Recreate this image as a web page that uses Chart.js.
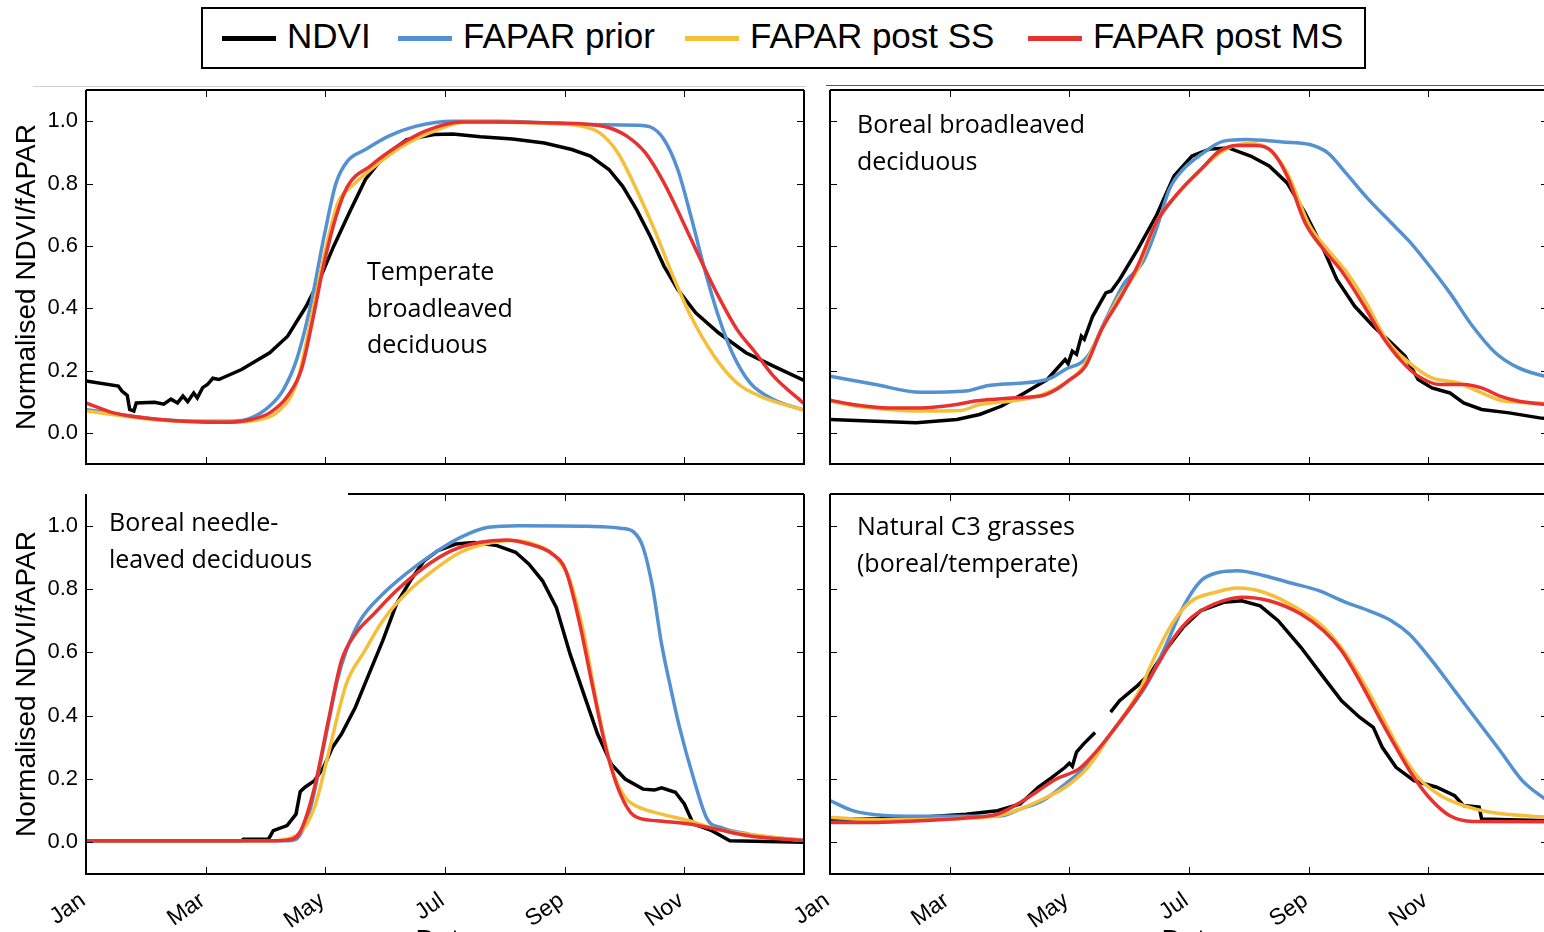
<!DOCTYPE html>
<html><head><meta charset="utf-8">
<script src="https://cdn.jsdelivr.net/npm/chart.js@4.4.1/dist/chart.umd.min.js"></script>
<style>
html,body{margin:0;padding:0;width:1544px;height:932px;overflow:hidden;background:#fff;}
canvas{position:absolute;}
.lbl{position:absolute;font-family:'Open Sans',sans-serif;font-size:25px;line-height:36.5px;color:#000;white-space:nowrap;}
.xt{position:absolute;font-family:'Liberation Sans',Arial,sans-serif;font-size:28px;line-height:28px;color:#000;white-space:nowrap;transform:translateX(-50%);}
#legend{position:absolute;left:201px;top:7px;width:1165px;height:62px;box-sizing:border-box;border:2px solid #000;font-family:'Liberation Sans',Arial,sans-serif;font-size:35px;color:#000;background:#fff;}
#legend .sw{position:absolute;width:54px;height:5px;top:27px;}
#legend .tx{position:absolute;top:7px;line-height:40px;white-space:nowrap;}
.hl{position:absolute;height:0;}
</style></head>
<body>
<div class="hl" style="left:33px;top:86px;width:773px;border-top:1px solid #cfcfcf;"></div>
<div class="hl" style="left:826px;top:85px;width:718px;border-top:1.5px solid #555;"></div>
<div id="legend"></div>
<script>
// ---------- data (x = months since 1 Jan, y = normalised value) ----------
const seriesNames = ['NDVI', 'FAPAR prior', 'FAPAR post SS', 'FAPAR post MS'];
const seriesColors = ['#000000', '#5491d1', '#f5bf3b', '#e8322f'];
const xTickVals = [0, 2, 4, 6, 8, 10];
const xTickLabels = ['Jan', 'Mar', 'May', 'Jul', 'Sep', 'Nov'];
const yTickVals = [0, 0.2, 0.4, 0.6, 0.8, 1.0];
const panelTitles = [
  ['Temperate', 'broadleaved', 'deciduous'],
  ['Boreal broadleaved', 'deciduous'],
  ['Boreal needle-', 'leaved deciduous'],
  ['Natural C3 grasses', '(boreal/temperate)']
];

// Temperate broadleaved deciduous (top left)
const tbdNDVI = [[0,0.166],[0.54,0.15],[0.6,0.134],[0.69,0.12],[0.73,0.075],[0.8,0.07],[0.84,0.096],[1.15,0.098],[1.3,0.092],[1.42,0.108],[1.53,0.096],[1.62,0.118],[1.7,0.1],[1.8,0.128],[1.86,0.112],[1.95,0.145],[2.03,0.155],[2.12,0.175],[2.22,0.171],[2.6,0.203],[3.07,0.257],[3.37,0.31],[3.68,0.406],[3.9,0.49],[4.14,0.599],[4.4,0.706],[4.67,0.813],[4.98,0.888],[5.36,0.941],[5.82,0.957],[6.13,0.959],[6.59,0.95],[7.13,0.943],[7.66,0.93],[8.12,0.909],[8.43,0.888],[8.74,0.845],[8.97,0.791],[9.2,0.717],[9.43,0.631],[9.66,0.535],[9.89,0.46],[10.19,0.385],[10.57,0.321],[11.03,0.257],[11.49,0.214],[12,0.168]];
const tbdPrior = [[0,0.075],[0.77,0.053],[1.23,0.043],[1.92,0.037],[2.45,0.037],[2.76,0.048],[3.07,0.086],[3.3,0.139],[3.52,0.235],[3.75,0.406],[3.98,0.631],[4.18,0.802],[4.37,0.872],[4.67,0.909],[5.06,0.952],[5.52,0.984],[6.13,1.0],[6.9,1.0],[7.66,0.995],[8.43,0.989],[9.2,0.987],[9.46,0.979],[9.66,0.941],[9.89,0.845],[10.11,0.695],[10.34,0.524],[10.57,0.374],[10.8,0.257],[11.1,0.16],[11.49,0.107],[12,0.073]];
const tbdSS = [[0,0.07],[1.23,0.041],[2.3,0.034],[2.91,0.043],[3.22,0.07],[3.52,0.16],[3.75,0.353],[3.98,0.567],[4.21,0.738],[4.44,0.791],[4.83,0.856],[5.29,0.92],[5.75,0.963],[6.36,0.997],[7.66,0.993],[8.28,0.984],[8.58,0.963],[8.89,0.898],[9.2,0.781],[9.5,0.652],[9.81,0.503],[10.11,0.374],[10.5,0.246],[10.88,0.16],[11.26,0.118],[12,0.073]];
const tbdMS = [[0,0.096],[0.46,0.064],[1.23,0.043],[2.3,0.034],[2.76,0.043],[3.07,0.064],[3.37,0.118],[3.6,0.203],[3.79,0.364],[3.98,0.545],[4.18,0.695],[4.37,0.791],[4.75,0.856],[5.21,0.92],[5.67,0.968],[6.28,0.997],[6.9,0.997],[7.66,0.995],[8.43,0.989],[8.74,0.979],[9.04,0.952],[9.35,0.898],[9.66,0.802],[9.96,0.684],[10.27,0.556],[10.57,0.438],[10.88,0.332],[11.19,0.257],[11.49,0.182],[12,0.094]];

// Boreal broadleaved deciduous (top right)
const bbdNDVI = [[0,0.043],[0.76,0.037],[1.44,0.032],[2.12,0.043],[2.5,0.059],[2.87,0.086],[3.25,0.128],[3.63,0.171],[3.93,0.235],[3.98,0.222],[4.05,0.262],[4.12,0.252],[4.2,0.31],[4.25,0.3],[4.39,0.374],[4.61,0.449],[4.7,0.455],[4.84,0.492],[5.14,0.588],[5.45,0.695],[5.75,0.824],[6.05,0.888],[6.35,0.911],[6.66,0.914],[7.03,0.888],[7.34,0.856],[7.64,0.802],[7.94,0.706],[8.25,0.588],[8.47,0.492],[8.77,0.406],[9.08,0.342],[9.38,0.289],[9.61,0.246],[9.83,0.171],[10.06,0.144],[10.36,0.128],[10.59,0.096],[10.89,0.075],[11.35,0.064],[11.86,0.048],[12,0.045]];
const bbdPrior = [[0,0.182],[0.76,0.155],[1.51,0.13],[2.27,0.134],[2.65,0.152],[3.63,0.171],[3.93,0.203],[4.31,0.246],[4.61,0.364],[4.92,0.481],[5.22,0.545],[5.45,0.652],[5.67,0.781],[5.9,0.845],[6.2,0.893],[6.58,0.936],[6.96,0.941],[7.56,0.933],[8.02,0.925],[8.32,0.898],[8.62,0.834],[9.0,0.749],[9.38,0.674],[9.68,0.615],[9.98,0.545],[10.36,0.449],[10.74,0.342],[11.12,0.257],[11.5,0.209],[12,0.178]];
const bbdSS = [[0,0.102],[0.38,0.088],[0.98,0.075],[1.51,0.07],[2.19,0.072],[2.5,0.091],[3.03,0.102],[3.56,0.123],[3.93,0.16],[4.24,0.214],[4.54,0.332],[4.84,0.439],[5.14,0.524],[5.45,0.674],[5.82,0.77],[6.28,0.861],[6.66,0.914],[7.03,0.928],[7.34,0.909],[7.64,0.834],[8.02,0.663],[8.32,0.588],[8.62,0.519],[8.93,0.428],[9.3,0.299],[9.68,0.225],[10.06,0.176],[10.51,0.16],[10.89,0.128],[11.27,0.102],[12,0.095]];
const bbdMS = [[0,0.105],[0.38,0.091],[0.98,0.08],[1.51,0.08],[2.12,0.091],[2.42,0.102],[3.03,0.112],[3.56,0.12],[3.78,0.139],[4.01,0.171],[4.27,0.214],[4.54,0.332],[4.84,0.428],[5.14,0.535],[5.45,0.674],[5.82,0.77],[6.2,0.845],[6.51,0.904],[6.81,0.922],[7.11,0.922],[7.38,0.904],[7.64,0.824],[7.94,0.674],[8.25,0.588],[8.55,0.519],[8.93,0.406],[9.23,0.31],[9.53,0.235],[9.83,0.182],[10.21,0.155],[10.59,0.155],[10.89,0.144],[11.2,0.118],[11.5,0.102],[12,0.09]];

// Boreal needle-leaved deciduous (bottom left)
const bndNDVI = [[0,0.005],[2.6,0.005],[2.63,0.01],[3.05,0.01],[3.13,0.037],[3.36,0.053],[3.51,0.089],[3.58,0.16],[3.66,0.174],[3.82,0.195],[3.97,0.237],[4.12,0.3],[4.27,0.342],[4.5,0.426],[4.73,0.532],[4.96,0.637],[5.19,0.753],[5.42,0.826],[5.65,0.889],[5.88,0.921],[6.18,0.942],[6.49,0.947],[6.87,0.937],[7.18,0.916],[7.4,0.879],[7.63,0.826],[7.86,0.742],[8.09,0.595],[8.32,0.468],[8.55,0.342],[8.78,0.247],[9.01,0.2],[9.31,0.168],[9.5,0.165],[9.62,0.172],[9.85,0.158],[10.0,0.121],[10.15,0.058],[10.46,0.037],[10.76,0.005],[12,0.0]];
const bndPrior = [[0,0.005],[3.36,0.005],[3.51,0.01],[3.74,0.1],[3.97,0.3],[4.2,0.511],[4.35,0.605],[4.58,0.7],[4.96,0.784],[5.34,0.847],[5.8,0.911],[6.26,0.963],[6.72,0.995],[7.25,1.0],[8.4,0.998],[8.93,0.992],[9.16,0.979],[9.31,0.932],[9.47,0.805],[9.62,0.626],[9.77,0.489],[9.92,0.363],[10.15,0.205],[10.38,0.074],[10.61,0.047],[11.07,0.026],[11.45,0.016],[12,0.007]];
const bndSS = [[0,0.005],[3.05,0.005],[3.51,0.021],[3.82,0.111],[4.05,0.279],[4.35,0.5],[4.66,0.605],[4.96,0.7],[5.34,0.784],[5.8,0.858],[6.26,0.916],[6.72,0.944],[7.1,0.953],[7.48,0.942],[7.86,0.9],[8.09,0.826],[8.32,0.658],[8.55,0.426],[8.78,0.237],[9.01,0.142],[9.24,0.111],[9.62,0.089],[10.08,0.068],[10.53,0.042],[12,0.005]];
const bndMS = [[0,0.005],[3.05,0.005],[3.44,0.01],[3.59,0.037],[3.82,0.174],[4.05,0.384],[4.27,0.574],[4.5,0.658],[4.81,0.721],[5.19,0.795],[5.65,0.868],[6.11,0.921],[6.56,0.947],[7.02,0.955],[7.4,0.942],[7.79,0.911],[8.02,0.858],[8.24,0.7],[8.47,0.489],[8.7,0.289],[8.93,0.153],[9.16,0.084],[9.54,0.068],[10.08,0.058],[10.53,0.042],[11.07,0.021],[12,0.005]];

// Natural C3 grasses (bottom right); null = missing NDVI
const c3gNDVI = [[0,0.074],[0.76,0.074],[1.51,0.079],[2.27,0.089],[2.8,0.1],[3.18,0.121],[3.48,0.174],[3.71,0.205],[3.93,0.237],[4.0,0.25],[4.05,0.24],[4.12,0.285],[4.24,0.311],[4.43,0.347],[4.55,null],[4.69,0.411],[4.84,0.447],[5.14,0.495],[5.37,0.537],[5.6,0.605],[5.9,0.679],[6.2,0.732],[6.58,0.758],[6.88,0.763],[7.19,0.747],[7.49,0.7],[7.87,0.616],[8.25,0.521],[8.55,0.447],[8.85,0.395],[9.08,0.363],[9.23,0.3],[9.46,0.237],[9.76,0.195],[10.14,0.174],[10.44,0.147],[10.59,0.116],[10.85,0.111],[10.89,0.074],[12,0.068]];
const c3gPrior = [[0,0.132],[0.38,0.1],[0.76,0.087],[1.51,0.082],[2.27,0.082],[2.87,0.084],[3.18,0.105],[3.56,0.132],[3.93,0.184],[4.31,0.247],[4.69,0.342],[5.07,0.437],[5.3,0.5],[5.6,0.616],[5.9,0.742],[6.2,0.826],[6.51,0.853],[6.81,0.858],[7.26,0.842],[7.72,0.818],[8.17,0.795],[8.62,0.758],[9.0,0.732],[9.38,0.7],[9.68,0.658],[10.06,0.574],[10.44,0.479],[10.82,0.384],[11.2,0.289],[11.57,0.195],[12,0.13]];
const c3gSS = [[0,0.079],[0.76,0.071],[1.89,0.074],[2.8,0.084],[3.18,0.105],[3.56,0.137],[3.93,0.174],[4.31,0.237],[4.69,0.342],[5.14,0.468],[5.45,0.595],[5.75,0.7],[6.05,0.763],[6.43,0.789],[6.81,0.803],[7.26,0.789],[7.87,0.732],[8.25,0.679],[8.62,0.595],[8.93,0.5],[9.23,0.395],[9.53,0.289],[9.83,0.205],[10.21,0.147],[10.59,0.116],[11.04,0.095],[12,0.079]];
const c3gMS = [[0,0.063],[0.76,0.063],[1.51,0.068],[2.27,0.077],[2.8,0.089],[3.18,0.126],[3.48,0.163],[3.78,0.2],[4.16,0.232],[4.46,0.289],[4.77,0.363],[5.14,0.458],[5.45,0.553],[5.75,0.647],[6.05,0.711],[6.43,0.753],[6.88,0.774],[7.34,0.763],[7.87,0.721],[8.25,0.668],[8.55,0.605],[8.85,0.511],[9.15,0.405],[9.46,0.3],[9.76,0.205],[10.06,0.132],[10.36,0.084],[10.74,0.066],[12,0.065]];

// ---------- legend ----------
const legendItemLeft = [19, 195, 482, 825]; // sample offsets inside the legend box
const lg = document.getElementById('legend');
seriesNames.forEach((n, i) => {
  const sw = document.createElement('div'); sw.className = 'sw';
  sw.style.background = seriesColors[i]; sw.style.left = legendItemLeft[i] + 'px';
  const tx = document.createElement('div'); tx.className = 'tx';
  tx.textContent = n; tx.style.left = (legendItemLeft[i] + 65) + 'px';
  lg.appendChild(sw); lg.appendChild(tx);
});

// ---------- frame / inward ticks ----------
const framePlugin = {
  id: 'frame',
  afterDatasetsDraw(chart, args, o) {
    const {ctx, chartArea: a, scales: {x, y}} = chart;
    ctx.save();
    ctx.strokeStyle = '#000';
    ctx.lineWidth = 1;
    ctx.beginPath();
    xTickVals.forEach(v => {
      const px = Math.round(x.getPixelForValue(v)) + 0.5;
      ctx.moveTo(px, a.bottom); ctx.lineTo(px, a.bottom - 7);
      if (v > 0 && (!o.topFrom || px > o.topFrom)) { ctx.moveTo(px, a.top); ctx.lineTo(px, a.top + 7); }
    });
    yTickVals.forEach(v => {
      const py = Math.round(y.getPixelForValue(v)) + 0.5;
      ctx.moveTo(a.left, py); ctx.lineTo(a.left + 7, py);
      ctx.moveTo(a.right, py); ctx.lineTo(a.right - 7, py);
    });
    ctx.stroke();
    ctx.lineWidth = 2;
    ctx.beginPath();
    ctx.moveTo(o.topFrom || a.left, a.top); ctx.lineTo(a.right, a.top);
    ctx.moveTo(a.left, a.top); ctx.lineTo(a.left, a.bottom); ctx.lineTo(a.right, a.bottom); ctx.lineTo(a.right, a.top);
    ctx.stroke();
    ctx.restore();
  }
};

const fontFam = "'Liberation Sans', Arial, sans-serif";
function makePanel(box, series, showX, showY, titleLines, titlePos, topFrom) {
  const c = document.createElement('canvas');
  c.width = box.w; c.height = box.h;
  c.style.left = box.x + 'px'; c.style.top = box.y + 'px';
  document.body.appendChild(c);
  const order = [3, 2, 1, 0];
  const xScale = {
    type: 'linear', min: 0, max: 12, display: showX,
    grid: {display: false, drawTicks: false, tickLength: 0},
    border: {display: false},
    afterBuildTicks: s => { s.ticks = xTickVals.map(v => ({value: v})); },
    ticks: {autoSkip: false, minRotation: 35, maxRotation: 35, padding: 13, labelOffset: -3, color: '#000',
            font: {family: fontFam, size: 23},
            callback: (v, i) => xTickLabels[i]}
  };
  if (showX) xScale.afterFit = s => { s.height = box.xh; s.paddingLeft = 0; s.paddingRight = 0; };
  const yScale = {
    type: 'linear', min: -0.1, max: 1.1, display: showY,
    grid: {display: false, drawTicks: false, tickLength: 0},
    border: {display: false},
    afterBuildTicks: s => { s.ticks = yTickVals.map(v => ({value: v})); },
    ticks: {padding: 8, color: '#000', font: {family: fontFam, size: 22}, callback: v => Number(v).toFixed(1)},
    title: {display: true, text: 'Normalised NDVI/fAPAR', color: '#000',
            font: {family: fontFam, size: 28}, padding: {top: 10, bottom: 0}}
  };
  if (showY) yScale.afterFit = s => { s.width = 86; s.paddingTop = 0; s.paddingBottom = 0; };
  new Chart(c, {
    type: 'line',
    data: {
      datasets: series.map((s, i) => ({
        label: seriesNames[i],
        data: s.map(p => ({x: p[0], y: p[1]})),
        borderColor: seriesColors[i],
        backgroundColor: seriesColors[i],
        borderWidth: 3.5,
        pointRadius: 0,
        tension: 0,
        cubicInterpolationMode: i === 0 ? 'default' : 'monotone',
        spanGaps: false,
        order: order[i],
        fill: false
      }))
    },
    options: {
      responsive: false, animation: false, devicePixelRatio: 1,
      layout: {padding: box.pad},
      plugins: {legend: {display: false}, tooltip: {enabled: false}, frame: {topFrom: topFrom}},
      scales: {x: xScale, y: yScale}
    },
    plugins: [framePlugin]
  });
  const d = document.createElement('div');
  d.className = 'lbl';
  d.style.left = titlePos[0] + 'px'; d.style.top = titlePos[1] + 'px';
  d.innerHTML = titleLines.join('<br>');
  document.body.appendChild(d);
}

makePanel({x: 0, y: 80, w: 820, h: 400, pad: {left: 0, top: 10, right: 16, bottom: 16}, xh: 0},
  [tbdNDVI, tbdPrior, tbdSS, tbdMS], false, true, panelTitles[0], [367, 252]);
makePanel({x: 770, y: 80, w: 800, h: 400, pad: {left: 60, top: 10, right: 22, bottom: 16}, xh: 0},
  [bbdNDVI, bbdPrior, bbdSS, bbdMS], false, false, panelTitles[1], [857, 105]);
makePanel({x: 0, y: 484, w: 820, h: 448, pad: {left: 0, top: 10, right: 16, bottom: 0}, xh: 58},
  [bndNDVI, bndPrior, bndSS, bndMS], true, true, panelTitles[2], [109, 503], 348);
makePanel({x: 770, y: 484, w: 800, h: 448, pad: {left: 60, top: 10, right: 22, bottom: 0}, xh: 58},
  [c3gNDVI, c3gPrior, c3gSS, c3gMS], true, false, panelTitles[3], [857, 507]);

// x-axis titles (cut off by the bottom edge in the original)
[445, 1191].forEach(cx => {
  const t = document.createElement('div'); t.className = 'xt';
  t.style.left = cx + 'px'; t.style.top = '926px'; t.textContent = 'Date';
  document.body.appendChild(t);
});
</script>
</body></html>
